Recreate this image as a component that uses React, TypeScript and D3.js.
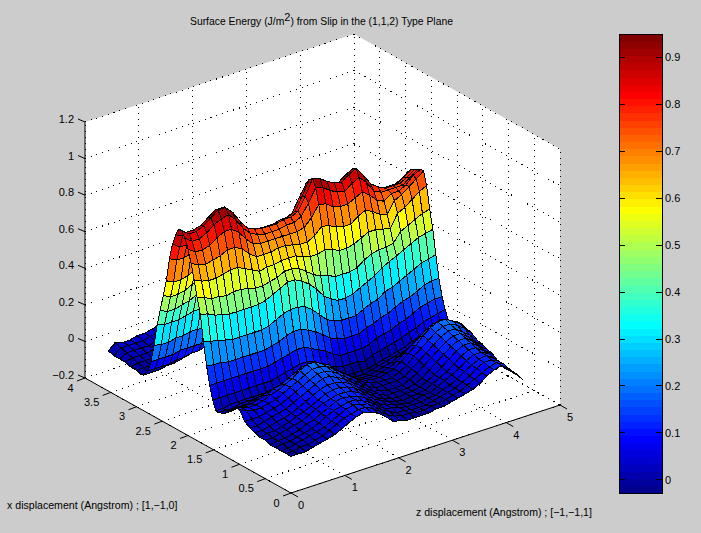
import React from 'react'
import * as d3 from 'd3'

// z displacement (Angstrom), one entry per grid column
const zDisp = [0, 0.135, 0.27, 0.405, 0.54, 0.675, 0.81, 0.945, 1.08, 1.215, 1.35, 1.485, 1.62, 1.755, 1.89, 2.025, 2.16, 2.295, 2.43, 2.565, 2.7, 2.835, 2.97, 3.105, 3.24, 3.375, 3.51, 3.645, 3.78, 3.915, 4.05, 4.185, 4.32]

// x displacement (Angstrom), one entry per grid row
const xDisp = [0, 0.1, 0.2, 0.3, 0.4, 0.5, 0.6, 0.7, 0.8, 0.9, 1.0, 1.1, 1.2, 1.3, 1.4, 1.46, 1.52, 1.58, 1.64, 1.7, 1.76, 1.82, 1.88, 1.94, 2.0, 2.06, 2.12, 2.18, 2.24, 2.3, 2.36, 2.42, 2.48, 2.54, 2.6, 2.66, 2.72, 2.78, 2.84, 2.9, 3.0, 3.11, 3.22, 3.33, 3.44, 3.55]

// surface energy, in hundredths of J/m^2 (rows follow xDisp, columns zDisp)
const energy = [
  [0,0,0,1,2,3,4,6,8,10,11,10,8,5,1,0,-1,-1,-1,-1,0,0,1,2,3,4,6,9,11,12,9,5,0],
  [0,0,1,1,2,3,5,7,9,10,11,11,9,6,3,1,0,0,-1,-1,0,0,1,2,3,5,7,9,11,12,10,5,1],
  [0,0,1,2,3,4,5,7,9,11,12,11,10,7,4,2,0,0,-1,-1,-1,0,1,2,3,5,7,10,12,12,10,6,1],
  [0,1,1,2,3,4,6,8,10,11,12,12,10,8,5,2,1,0,-1,-1,-1,0,0,2,3,5,8,10,12,13,10,6,1],
  [0,1,1,2,3,5,6,8,10,12,13,12,11,9,6,3,1,0,-1,-2,-1,0,0,2,4,6,8,11,13,13,11,6,1],
  [1,1,2,3,4,5,7,9,11,12,13,13,12,10,7,4,2,0,-1,-2,-1,-1,0,2,4,6,9,12,14,14,11,7,3],
  [1,2,2,3,4,6,7,9,11,13,14,14,13,11,8,5,2,0,-1,-2,-1,-1,0,2,4,7,10,13,15,15,12,8,5],
  [2,2,3,4,5,6,8,10,12,14,15,15,14,12,9,6,3,1,-1,-1,-1,-1,0,2,5,8,11,14,16,16,13,9,6],
  [3,3,4,5,6,7,9,11,13,15,17,17,15,13,10,7,4,1,0,-1,-1,-1,1,3,6,9,12,15,17,17,14,10,7],
  [5,5,5,6,7,8,10,12,14,16,18,18,17,14,11,8,5,2,0,0,0,0,1,4,7,10,13,16,18,18,15,12,8],
  [10,8,7,7,8,9,11,13,15,17,19,19,18,15,12,9,6,3,1,0,0,0,2,4,8,11,14,17,19,19,17,14,10],
  [9,8,7,7,8,10,11,13,15,18,20,20,18,16,12,9,6,3,1,0,0,1,2,5,8,11,15,18,20,20,18,15,11],
  [6,6,6,6,7,8,10,11,13,15,17,17,15,13,10,7,4,2,0,-1,-1,0,1,3,6,9,12,15,17,18,17,14,12],
  [3,3,4,4,5,6,7,8,9,10,11,11,10,8,6,4,2,0,-2,-2,-2,-1,0,1,3,5,7,9,12,13,14,13,12],
  [2,2,2,3,3,3,4,4,5,5,6,6,6,5,4,2,0,-1,-2,-3,-3,-2,-1,0,1,2,3,5,7,8,10,10,10],
  [2,2,3,3,3,3,3,3,3,4,5,6,6,6,5,3,1,-1,-2,-2,-2,-2,-1,0,1,2,3,5,6,8,9,10,10],
  [7,7,7,7,7,7,7,7,7,8,9,10,11,11,10,7,5,3,2,2,2,1,3,4,5,6,7,9,10,12,13,14,15],
  [14,14,14,14,14,14,14,14,14,15,16,17,18,18,16,14,12,9,7,7,7,7,8,10,11,12,14,15,17,19,20,21,21],
  [24,23,23,22,22,22,22,22,22,23,24,26,27,27,25,23,20,17,15,14,14,14,16,17,19,20,22,24,25,27,29,30,30],
  [36,35,34,33,32,32,32,32,32,33,35,37,38,38,37,34,30,26,24,23,23,23,25,27,28,31,32,34,36,38,40,41,42],
  [50,49,47,46,45,45,45,45,45,46,48,50,52,52,50,47,43,38,35,33,33,34,36,38,40,43,45,47,49,51,53,54,55],
  [58,57,55,55,54,55,55,54,53,53,54,55,57,57,56,53,50,48,47,45,45,45,46,49,51,52,52,53,58,60,62,64,65],
  [67,65,64,64,65,66,66,64,62,60,61,61,62,62,62,60,59,59,60,59,57,57,58,60,62,62,61,60,67,69,72,75,77],
  [75,73,72,73,74,76,76,74,70,67,67,67,68,68,67,66,66,68,72,71,69,68,68,71,73,71,68,67,73,75,78,81,84],
  [82,79,79,80,83,85,85,82,77,73,72,72,72,72,72,72,73,77,83,82,79,78,78,80,82,79,75,73,76,76,78,82,84],
  [87,84,84,86,89,91,92,88,82,78,76,75,75,75,76,76,78,84,91,90,87,85,84,87,89,85,79,77,77,77,77,80,83],
  [90,87,87,89,92,95,95,91,85,80,78,77,77,77,78,78,80,87,95,94,91,89,88,91,93,88,82,79,77,77,77,79,82],
  [90,87,87,88,91,94,94,90,84,79,77,76,76,76,77,77,79,86,94,93,90,88,87,90,92,87,81,78,76,76,76,78,81],
  [86,84,84,85,88,91,91,87,82,77,75,74,74,74,75,75,77,84,91,90,87,85,84,87,89,84,79,76,74,74,74,76,79],
  [80,77,77,79,82,85,85,81,76,71,69,69,69,69,69,69,71,77,85,84,81,79,78,81,83,78,73,70,69,69,69,70,73],
  [71,69,69,70,73,75,75,72,67,63,62,61,61,61,62,62,63,69,75,74,72,70,70,72,73,70,65,62,61,61,61,62,65],
  [58,56,56,57,59,61,61,58,54,51,50,49,49,49,50,50,51,56,61,60,58,57,56,58,60,56,52,51,49,49,49,51,52],
  [49,47,47,48,50,51,51,49,46,43,42,42,42,42,42,42,43,47,51,51,49,48,48,49,50,48,44,43,42,42,42,43,44],
  [40,38,38,39,40,42,42,40,37,35,34,34,34,34,34,34,35,38,42,41,40,39,39,40,41,39,36,35,34,34,34,35,36],
  [31,30,30,30,31,32,32,31,29,27,27,26,26,26,27,27,27,30,32,32,31,30,30,31,32,30,28,27,26,26,26,27,28],
  [19,18,18,19,19,20,20,19,18,17,16,16,16,16,16,16,17,18,20,20,19,19,18,19,20,18,17,17,16,16,16,17,17],
  [9,9,9,9,10,10,10,10,9,8,8,8,8,8,8,8,8,9,10,10,9,9,9,9,10,9,8,8,8,8,8,8,9],
  [3,3,3,3,4,4,5,5,6,6,6,5,4,3,3,3,3,3,3,3,3,3,3,3,3,3,3,3,3,3,3,3,3],
  [0,0,0,1,1,2,3,4,5,6,6,5,4,3,2,1,1,1,1,1,1,1,1,1,2,2,3,3,4,4,3,2,1],
  [-1,-1,-1,0,1,2,3,5,6,7,7,6,4,3,2,1,0,0,0,0,0,0,1,1,2,3,4,4,5,5,4,2,0],
  [0,0,0,1,1,2,3,4,5,6,6,5,4,3,2,1,0,0,0,0,0,0,1,1,2,2,3,4,4,4,3,2,0],
  [0,1,1,1,2,3,3,4,5,5,5,5,4,3,2,1,0,0,0,0,0,1,1,1,2,2,3,3,4,4,3,2,1],
  [1,2,2,2,3,3,4,5,5,5,5,5,4,3,2,1,1,0,0,0,0,1,1,1,2,2,3,3,3,3,3,2,1],
  [1,3,3,3,3,4,5,6,6,6,5,5,4,3,2,1,1,0,0,0,1,1,1,1,2,2,2,3,3,3,2,2,1],
  [1,4,4,4,4,5,6,7,7,6,6,5,4,3,2,1,1,1,1,1,1,1,1,1,2,2,2,2,3,3,2,2,1],
  [2,5,4,4,5,5,6,7,8,7,6,5,4,3,2,1,1,1,1,1,1,1,1,1,1,2,2,2,2,2,2,1,0],
]

const zTicks = [0, 1, 2, 3, 4, 5]
const xTicks = [0, 0.5, 1, 1.5, 2, 2.5, 3, 3.5, 4]
const eTicks = [-0.2, 0, 0.2, 0.4, 0.6, 0.8, 1, 1.2]
const barTicks = [0, 0.1, 0.2, 0.3, 0.4, 0.5, 0.6, 0.7, 0.8, 0.9]

const W = 701
const H = 533
const FONT = '"Liberation Sans", Arial, sans-serif'

// oblique projection of the MATLAB view, each data axis contributes a pixel offset
const uX = d3.scaleLinear().domain([0, 5]).range([0, 269])
const uY = d3.scaleLinear().domain([0, 5]).range([0, -88])
const vX = d3.scaleLinear().domain([0, 4]).range([0, -206])
const vY = d3.scaleLinear().domain([0, 4]).range([0, -115])
const eY = d3.scaleLinear().domain([-0.2, 1.2]).range([0, -256])
const ORIGIN = [291, 493]

const project = (u: number, v: number, e: number): [number, number] => [
  ORIGIN[0] + uX(u) + vX(v),
  ORIGIN[1] + uY(u) + vY(v) + eY(e),
]

// jet colormap, 64 flat levels
const jetRamp = d3.scaleLinear<string>()
  .domain([0, 0.111, 0.365, 0.619, 0.873, 1])
  .range(['rgb(0,0,143)', 'rgb(0,0,255)', 'rgb(0,255,255)', 'rgb(255,255,0)', 'rgb(255,0,0)', 'rgb(128,0,0)'])
const levels = d3.range(64).map(i => jetRamp(i / 63))
const barScale = d3.scaleLinear().domain([-0.028, 0.95]).range([493, 34])
const colorFor = (val: number) => {
  const t = (val + 0.028) / 0.978
  return levels[Math.max(0, Math.min(63, Math.floor(t * 64)))]
}

const pathOf = d3.line()

export default function App() {
  const faces: React.ReactNode[] = []
  // back to front, the far corner of the grid first
  for (let i = xDisp.length - 2; i >= 0; i--) {
    for (let j = zDisp.length - 2; j >= 0; j--) {
      const pts = [
        project(zDisp[j], xDisp[i], energy[i][j] / 100),
        project(zDisp[j + 1], xDisp[i], energy[i][j + 1] / 100),
        project(zDisp[j + 1], xDisp[i + 1], energy[i + 1][j + 1] / 100),
        project(zDisp[j], xDisp[i + 1], energy[i + 1][j] / 100),
      ]
      faces.push(
        <path key={`${i}-${j}`} d={pathOf(pts) + 'Z'} fill={colorFor(energy[i][j] / 100)} stroke="#000" strokeWidth={1} />
      )
    }
  }

  const floorE = -0.2
  const topE = 1.2
  const seg = (a: [number, number], b: [number, number]) => pathOf([a, b]) as string
  const grid: string[] = []
  zTicks.forEach(u => {
    grid.push(seg(project(u, 0, floorE), project(u, 4, floorE)))
    grid.push(seg(project(u, 4, floorE), project(u, 4, topE)))
  })
  xTicks.forEach(v => {
    grid.push(seg(project(0, v, floorE), project(5, v, floorE)))
    grid.push(seg(project(5, v, floorE), project(5, v, topE)))
  })
  eTicks.forEach(e => {
    grid.push(seg(project(0, 4, e), project(5, 4, e)))
    grid.push(seg(project(5, 4, e), project(5, 0, e)))
  })

  const wall = [
    project(0, 0, floorE), project(5, 0, floorE), project(5, 0, topE),
    project(5, 4, topE), project(0, 4, topE), project(0, 4, floorE),
  ]

  const tickText = { fontFamily: FONT, fontSize: 11, fill: '#000' }
  const barH = (barScale(-0.028) - barScale(0.95)) / 64

  return (
    <svg width={W} height={H} viewBox={`0 0 ${W} ${H}`} style={{ position: 'absolute', left: 0, top: 0, display: 'block' }}>
      <rect width={W} height={H} fill="#cccccc" />
      <path d={pathOf(wall) + 'Z'} fill="#fff" />
      <g shapeRendering="crispEdges">
        {grid.map((d, i) => <path key={i} d={d} stroke="#000" strokeWidth={1} strokeDasharray="1 5" fill="none" />)}
      </g>
      <g shapeRendering="crispEdges">{faces}</g>

      {/* axis lines */}
      <path d={seg(project(0, 4, floorE), project(0, 0, floorE))} stroke="#000" fill="none" />
      <path d={seg(project(0, 0, floorE), project(5, 0, floorE))} stroke="#000" fill="none" />
      <path d={seg(project(0, 4, floorE), project(0, 4, topE))} stroke="#000" fill="none" />

      {zTicks.map(u => {
        const [x, y] = project(u, 0, floorE)
        return (
          <g key={u}>
            <line x1={x} y1={y} x2={x + 7} y2={y + 4} stroke="#000" />
            <text x={x + 10} y={y + 16} textAnchor="middle" {...tickText}>{u}</text>
          </g>
        )
      })}
      {xTicks.map(v => {
        const [x, y] = project(0, v, floorE)
        return (
          <g key={v}>
            <line x1={x} y1={y} x2={x - 8} y2={y + 3} stroke="#000" />
            <text x={x - 11.5} y={y + 13.5} textAnchor="end" {...tickText}>{v}</text>
          </g>
        )
      })}
      {eTicks.map(e => {
        const [x, y] = project(0, 4, e)
        return (
          <g key={e}>
            <line x1={x} y1={y} x2={x - 7} y2={y - 3} stroke="#000" />
            <text x={x - 11} y={y + 1} textAnchor="end" {...tickText}>{String(e).replace('-', '\u2212')}</text>
          </g>
        )
      })}

      <text x={190} y={25} fontFamily={FONT} fontSize={10.35} fill="#000">
        Surface Energy (J/m<tspan dy={-4} fontSize={11}>2</tspan><tspan dy={4}>) from Slip in the (1,1,2) Type Plane</tspan>
      </text>
      <text x={7} y={509} fontFamily={FONT} fontSize={10.6} fill="#000">x displacement (Angstrom) ; [1,−1,0]</text>
      <text x={416} y={516} fontFamily={FONT} fontSize={10.55} fill="#000">z displacement (Angstrom) ; [−1,−1,1]</text>

      {/* colorbar */}
      <g shapeRendering="crispEdges">
        {levels.map((c, i) => (
          <rect key={i} x={619} width={43} y={barScale(0.95) + (63 - i) * barH} height={barH + 0.5} fill={c} />
        ))}
        <rect x={619} y={34} width={43} height={459} fill="none" stroke="#000" />
        {barTicks.map(t => (
          <g key={t}>
            <line x1={619} x2={625} y1={barScale(t)} y2={barScale(t)} stroke="#000" />
            <line x1={656} x2={662} y1={barScale(t)} y2={barScale(t)} stroke="#000" />
          </g>
        ))}
      </g>
      {barTicks.map(t => (
        <text key={t} x={665} y={barScale(t) + 4} {...tickText}>{t}</text>
      ))}
    </svg>
  )
}
